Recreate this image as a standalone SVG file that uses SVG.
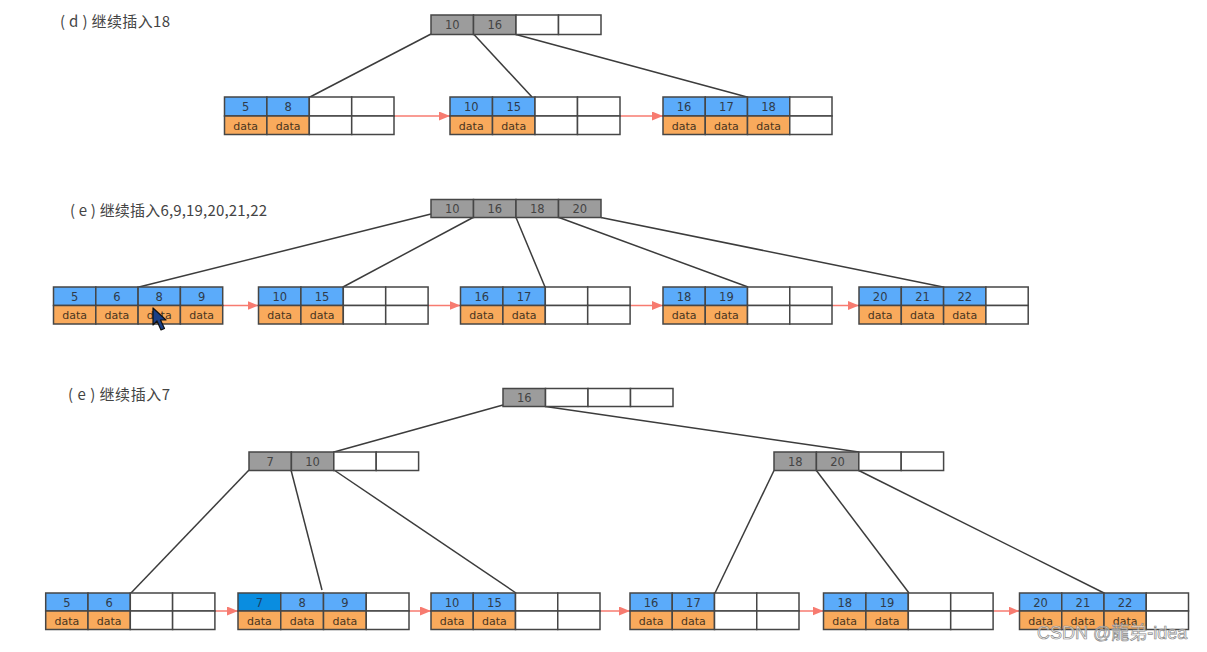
<svg xmlns="http://www.w3.org/2000/svg" width="1207" height="652" viewBox="0 0 1207 652">
<defs>
<style>
.k{fill:#5babfa;stroke:#464646;stroke-width:1.5}
.h{fill:#0a8de0;stroke:#464646;stroke-width:1.5}
.d{fill:#f9aa5c;stroke:#464646;stroke-width:1.5}
.e{fill:#fff;stroke:#464646;stroke-width:1.5}
.g{fill:#9c9c9c;stroke:#464646;stroke-width:1.5}
.n{font-family:"DejaVu Sans",sans-serif;font-size:11.5px;fill:#2f3b4a;text-anchor:middle}
.gn{font-family:"DejaVu Sans",sans-serif;font-size:11.5px;fill:#444;text-anchor:middle}
.dt{font-family:"DejaVu Sans",sans-serif;font-size:11px;fill:#4a3520;text-anchor:middle}
.t{font-family:"Noto Sans CJK SC","Noto Sans",sans-serif;font-size:15px;fill:#444}
.c{stroke:#3c3c3c;stroke-width:1.5;fill:none}
.a{stroke:#f77b70;stroke-width:1.5;fill:none;marker-end:url(#ah)}
</style>
<marker id="ah" markerUnits="userSpaceOnUse" markerWidth="11" markerHeight="9" refX="11" refY="4.5" orient="auto">
<path d="M0,0 L11,4.5 L0,9 z" fill="#f77b70"/>
</marker>
</defs>
<rect width="1207" height="652" fill="#fff"/>

<text class="t" x="60" y="27" textLength="110" lengthAdjust="spacing">( d ) 继续插入18</text>
<text class="t" x="70" y="216" textLength="197" lengthAdjust="spacing">( e ) 继续插入6,9,19,20,21,22</text>
<text class="t" x="68" y="400" textLength="102" lengthAdjust="spacing">( e ) 继续插入7</text>

<g id="connectors">
<line class="c" x1="431" y1="34" x2="310" y2="97"/>
<line class="c" x1="474" y1="34.5" x2="532" y2="97"/>
<line class="c" x1="516" y1="34.5" x2="747" y2="97"/>
<line class="c" x1="431" y1="214" x2="139" y2="287"/>
<line class="c" x1="473" y1="217.5" x2="343" y2="287"/>
<line class="c" x1="516" y1="217.5" x2="545" y2="287"/>
<line class="c" x1="559" y1="217.5" x2="748" y2="287"/>
<line class="c" x1="601" y1="217.5" x2="943" y2="287"/>
<line class="c" x1="503" y1="405" x2="334" y2="452"/>
<line class="c" x1="545.5" y1="406.5" x2="858.8" y2="452"/>
<line class="c" x1="249" y1="470" x2="131" y2="593"/>
<line class="c" x1="291" y1="470" x2="322" y2="590"/>
<line class="c" x1="334" y1="470" x2="516" y2="593"/>
<line class="c" x1="774" y1="470.5" x2="715" y2="593"/>
<line class="c" x1="816.4" y1="470.5" x2="909" y2="593"/>
<line class="c" x1="858.8" y1="470.5" x2="1104" y2="593"/>
<line class="a" x1="394" y1="116" x2="450" y2="116"/>
<line class="a" x1="620" y1="116" x2="663" y2="116"/>
<line class="a" x1="222.7" y1="305.5" x2="258.5" y2="305.5"/>
<line class="a" x1="428.1" y1="305.5" x2="460.5" y2="305.5"/>
<line class="a" x1="630.1" y1="305.5" x2="663" y2="305.5"/>
<line class="a" x1="832" y1="305.5" x2="859" y2="305.5"/>
<line class="a" x1="214.9" y1="611" x2="238" y2="611"/>
<line class="a" x1="409" y1="611" x2="431" y2="611"/>
<line class="a" x1="600" y1="611" x2="630" y2="611"/>
<line class="a" x1="799" y1="611" x2="823.5" y2="611"/>
<line class="a" x1="993.1" y1="611" x2="1019.5" y2="611"/>
</g>

<!-- section d -->
<g id="d-root">
<rect class="g" x="431" y="15" width="42.5" height="19.5"/>
<rect class="g" x="473.5" y="15" width="42.5" height="19.5"/>
<rect class="e" x="516" y="15" width="42.5" height="19.5"/>
<rect class="e" x="558.5" y="15" width="42.5" height="19.5"/>
<text class="gn" x="452.25" y="29">10</text>
<text class="gn" x="494.75" y="29">16</text>
</g>
<g id="d-leaf1">
<rect class="k" x="224.5" y="97" width="42.4" height="19"/>
<rect class="k" x="266.9" y="97" width="42.4" height="19"/>
<rect class="e" x="309.3" y="97" width="42.4" height="19"/>
<rect class="e" x="351.7" y="97" width="42.3" height="19"/>
<rect class="d" x="224.5" y="116" width="42.4" height="18.5"/>
<rect class="d" x="266.9" y="116" width="42.4" height="18.5"/>
<rect class="e" x="309.3" y="116" width="42.4" height="18.5"/>
<rect class="e" x="351.7" y="116" width="42.3" height="18.5"/>
<text class="n" x="245.7" y="111">5</text>
<text class="n" x="288.1" y="111">8</text>
<text class="dt" x="245.7" y="129.5">data</text>
<text class="dt" x="288.1" y="129.5">data</text>
</g>
<g id="d-leaf2">
<rect class="k" x="450" y="97" width="42.5" height="19"/>
<rect class="k" x="492.5" y="97" width="42.5" height="19"/>
<rect class="e" x="535" y="97" width="42.5" height="19"/>
<rect class="e" x="577.5" y="97" width="42.5" height="19"/>
<rect class="d" x="450" y="116" width="42.5" height="18.5"/>
<rect class="d" x="492.5" y="116" width="42.5" height="18.5"/>
<rect class="e" x="535" y="116" width="42.5" height="18.5"/>
<rect class="e" x="577.5" y="116" width="42.5" height="18.5"/>
<text class="n" x="471.25" y="111">10</text>
<text class="n" x="513.75" y="111">15</text>
<text class="dt" x="471.25" y="129.5">data</text>
<text class="dt" x="513.75" y="129.5">data</text>
</g>
<g id="d-leaf3">
<rect class="k" x="663" y="97" width="42.25" height="19"/>
<rect class="k" x="705.25" y="97" width="42.25" height="19"/>
<rect class="k" x="747.5" y="97" width="42.25" height="19"/>
<rect class="e" x="789.75" y="97" width="42.25" height="19"/>
<rect class="d" x="663" y="116" width="42.25" height="18.5"/>
<rect class="d" x="705.25" y="116" width="42.25" height="18.5"/>
<rect class="d" x="747.5" y="116" width="42.25" height="18.5"/>
<rect class="e" x="789.75" y="116" width="42.25" height="18.5"/>
<text class="n" x="684.1" y="111">16</text>
<text class="n" x="726.4" y="111">17</text>
<text class="n" x="768.6" y="111">18</text>
<text class="dt" x="684.1" y="129.5">data</text>
<text class="dt" x="726.4" y="129.5">data</text>
<text class="dt" x="768.6" y="129.5">data</text>
</g>

<!-- section e -->
<g id="e-root">
<rect class="g" x="431" y="199.5" width="42.5" height="18"/>
<rect class="g" x="473.5" y="199.5" width="42.5" height="18"/>
<rect class="g" x="516" y="199.5" width="42.5" height="18"/>
<rect class="g" x="558.5" y="199.5" width="42.5" height="18"/>
<text class="gn" x="452.25" y="213">10</text>
<text class="gn" x="494.75" y="213">16</text>
<text class="gn" x="537.25" y="213">18</text>
<text class="gn" x="579.75" y="213">20</text>
</g>
<g id="e-leaf1">
<rect class="k" x="53.5" y="287" width="42.3" height="18.5"/>
<rect class="k" x="95.8" y="287" width="42.3" height="18.5"/>
<rect class="k" x="138.1" y="287" width="42.3" height="18.5"/>
<rect class="k" x="180.4" y="287" width="42.3" height="18.5"/>
<rect class="d" x="53.5" y="305.5" width="42.3" height="18.5"/>
<rect class="d" x="95.8" y="305.5" width="42.3" height="18.5"/>
<rect class="d" x="138.1" y="305.5" width="42.3" height="18.5"/>
<rect class="d" x="180.4" y="305.5" width="42.3" height="18.5"/>
<text class="n" x="74.65" y="301">5</text>
<text class="n" x="116.95" y="301">6</text>
<text class="n" x="159.25" y="301">8</text>
<text class="n" x="201.55" y="301">9</text>
<text class="dt" x="74.65" y="319">data</text>
<text class="dt" x="116.95" y="319">data</text>
<text class="dt" x="159.25" y="319">data</text>
<text class="dt" x="201.55" y="319">data</text>
</g>
<g id="e-leaf2">
<rect class="k" x="258.5" y="287" width="42.4" height="18.5"/>
<rect class="k" x="300.9" y="287" width="42.4" height="18.5"/>
<rect class="e" x="343.3" y="287" width="42.4" height="18.5"/>
<rect class="e" x="385.7" y="287" width="42.4" height="18.5"/>
<rect class="d" x="258.5" y="305.5" width="42.4" height="18.5"/>
<rect class="d" x="300.9" y="305.5" width="42.4" height="18.5"/>
<rect class="e" x="343.3" y="305.5" width="42.4" height="18.5"/>
<rect class="e" x="385.7" y="305.5" width="42.4" height="18.5"/>
<text class="n" x="279.7" y="301">10</text>
<text class="n" x="322.1" y="301">15</text>
<text class="dt" x="279.7" y="319">data</text>
<text class="dt" x="322.1" y="319">data</text>
</g>
<g id="e-leaf3">
<rect class="k" x="460.5" y="287" width="42.4" height="18.5"/>
<rect class="k" x="502.9" y="287" width="42.4" height="18.5"/>
<rect class="e" x="545.3" y="287" width="42.4" height="18.5"/>
<rect class="e" x="587.7" y="287" width="42.4" height="18.5"/>
<rect class="d" x="460.5" y="305.5" width="42.4" height="18.5"/>
<rect class="d" x="502.9" y="305.5" width="42.4" height="18.5"/>
<rect class="e" x="545.3" y="305.5" width="42.4" height="18.5"/>
<rect class="e" x="587.7" y="305.5" width="42.4" height="18.5"/>
<text class="n" x="481.7" y="301">16</text>
<text class="n" x="524.1" y="301">17</text>
<text class="dt" x="481.7" y="319">data</text>
<text class="dt" x="524.1" y="319">data</text>
</g>
<g id="e-leaf4">
<rect class="k" x="663" y="287" width="42.25" height="18.5"/>
<rect class="k" x="705.25" y="287" width="42.25" height="18.5"/>
<rect class="e" x="747.5" y="287" width="42.25" height="18.5"/>
<rect class="e" x="789.75" y="287" width="42.25" height="18.5"/>
<rect class="d" x="663" y="305.5" width="42.25" height="18.5"/>
<rect class="d" x="705.25" y="305.5" width="42.25" height="18.5"/>
<rect class="e" x="747.5" y="305.5" width="42.25" height="18.5"/>
<rect class="e" x="789.75" y="305.5" width="42.25" height="18.5"/>
<text class="n" x="684.1" y="301">18</text>
<text class="n" x="726.4" y="301">19</text>
<text class="dt" x="684.1" y="319">data</text>
<text class="dt" x="726.4" y="319">data</text>
</g>
<g id="e-leaf5">
<rect class="k" x="859" y="287" width="42.3" height="18.5"/>
<rect class="k" x="901.3" y="287" width="42.3" height="18.5"/>
<rect class="k" x="943.6" y="287" width="42.3" height="18.5"/>
<rect class="e" x="985.9" y="287" width="42.3" height="18.5"/>
<rect class="d" x="859" y="305.5" width="42.3" height="18.5"/>
<rect class="d" x="901.3" y="305.5" width="42.3" height="18.5"/>
<rect class="d" x="943.6" y="305.5" width="42.3" height="18.5"/>
<rect class="e" x="985.9" y="305.5" width="42.3" height="18.5"/>
<text class="n" x="880.15" y="301">20</text>
<text class="n" x="922.45" y="301">21</text>
<text class="n" x="964.75" y="301">22</text>
<text class="dt" x="880.15" y="319">data</text>
<text class="dt" x="922.45" y="319">data</text>
<text class="dt" x="964.75" y="319">data</text>
</g>
<g id="cursor">
<path d="M153,308 L153,325 L157,321 L161,330 L164.5,328.5 L160.5,320 L166,320 Z" fill="#1b3f86" stroke="#111" stroke-width="1.2" stroke-linejoin="round"/>
</g>

<!-- section f -->
<g id="f-root">
<rect class="g" x="503" y="388.5" width="42.5" height="18"/>
<rect class="e" x="545.5" y="388.5" width="42.5" height="18"/>
<rect class="e" x="588" y="388.5" width="42.5" height="18"/>
<rect class="e" x="630.5" y="388.5" width="42.5" height="18"/>
<text class="gn" x="524.25" y="402">16</text>
</g>
<g id="f-inner-left">
<rect class="g" x="249" y="452" width="42.4" height="18.5"/>
<rect class="g" x="291.4" y="452" width="42.4" height="18.5"/>
<rect class="e" x="333.8" y="452" width="42.4" height="18.5"/>
<rect class="e" x="376.2" y="452" width="42.4" height="18.5"/>
<text class="gn" x="270.2" y="465.5">7</text>
<text class="gn" x="312.6" y="465.5">10</text>
</g>
<g id="f-inner-right">
<rect class="g" x="774" y="452" width="42.4" height="18.5"/>
<rect class="g" x="816.4" y="452" width="42.4" height="18.5"/>
<rect class="e" x="858.8" y="452" width="42.4" height="18.5"/>
<rect class="e" x="901.2" y="452" width="42.4" height="18.5"/>
<text class="gn" x="795.2" y="465.5">18</text>
<text class="gn" x="837.6" y="465.5">20</text>
</g>
<g id="f-leaf1">
<rect class="k" x="45.7" y="593" width="42.3" height="18"/>
<rect class="k" x="88" y="593" width="42.3" height="18"/>
<rect class="e" x="130.3" y="593" width="42.3" height="18"/>
<rect class="e" x="172.6" y="593" width="42.3" height="18"/>
<rect class="d" x="45.7" y="611" width="42.3" height="18.5"/>
<rect class="d" x="88" y="611" width="42.3" height="18.5"/>
<rect class="e" x="130.3" y="611" width="42.3" height="18.5"/>
<rect class="e" x="172.6" y="611" width="42.3" height="18.5"/>
<text class="n" x="66.85" y="606.5">5</text>
<text class="n" x="109.15" y="606.5">6</text>
<text class="dt" x="66.85" y="625">data</text>
<text class="dt" x="109.15" y="625">data</text>
</g>
<g id="f-leaf2">
<rect class="h" x="238" y="593" width="42.75" height="18"/>
<rect class="k" x="280.75" y="593" width="42.75" height="18"/>
<rect class="k" x="323.5" y="593" width="42.75" height="18"/>
<rect class="e" x="366.25" y="593" width="42.75" height="18"/>
<rect class="d" x="238" y="611" width="42.75" height="18.5"/>
<rect class="d" x="280.75" y="611" width="42.75" height="18.5"/>
<rect class="d" x="323.5" y="611" width="42.75" height="18.5"/>
<rect class="e" x="366.25" y="611" width="42.75" height="18.5"/>
<text class="n" x="259.4" y="606.5" style="fill:#1c3f66">7</text>
<text class="n" x="302.1" y="606.5">8</text>
<text class="n" x="344.9" y="606.5">9</text>
<text class="dt" x="259.4" y="625">data</text>
<text class="dt" x="302.1" y="625">data</text>
<text class="dt" x="344.9" y="625">data</text>
</g>
<g id="f-leaf3">
<rect class="k" x="431" y="593" width="42.25" height="18"/>
<rect class="k" x="473.25" y="593" width="42.25" height="18"/>
<rect class="e" x="515.5" y="593" width="42.25" height="18"/>
<rect class="e" x="557.75" y="593" width="42.25" height="18"/>
<rect class="d" x="431" y="611" width="42.25" height="18.5"/>
<rect class="d" x="473.25" y="611" width="42.25" height="18.5"/>
<rect class="e" x="515.5" y="611" width="42.25" height="18.5"/>
<rect class="e" x="557.75" y="611" width="42.25" height="18.5"/>
<text class="n" x="452.1" y="606.5">10</text>
<text class="n" x="494.4" y="606.5">15</text>
<text class="dt" x="452.1" y="625">data</text>
<text class="dt" x="494.4" y="625">data</text>
</g>
<g id="f-leaf4">
<rect class="k" x="630" y="593" width="42.25" height="18"/>
<rect class="k" x="672.25" y="593" width="42.25" height="18"/>
<rect class="e" x="714.5" y="593" width="42.25" height="18"/>
<rect class="e" x="756.75" y="593" width="42.25" height="18"/>
<rect class="d" x="630" y="611" width="42.25" height="18.5"/>
<rect class="d" x="672.25" y="611" width="42.25" height="18.5"/>
<rect class="e" x="714.5" y="611" width="42.25" height="18.5"/>
<rect class="e" x="756.75" y="611" width="42.25" height="18.5"/>
<text class="n" x="651.1" y="606.5">16</text>
<text class="n" x="693.4" y="606.5">17</text>
<text class="dt" x="651.1" y="625">data</text>
<text class="dt" x="693.4" y="625">data</text>
</g>
<g id="f-leaf5">
<rect class="k" x="823.5" y="593" width="42.4" height="18"/>
<rect class="k" x="865.9" y="593" width="42.4" height="18"/>
<rect class="e" x="908.3" y="593" width="42.4" height="18"/>
<rect class="e" x="950.7" y="593" width="42.4" height="18"/>
<rect class="d" x="823.5" y="611" width="42.4" height="18.5"/>
<rect class="d" x="865.9" y="611" width="42.4" height="18.5"/>
<rect class="e" x="908.3" y="611" width="42.4" height="18.5"/>
<rect class="e" x="950.7" y="611" width="42.4" height="18.5"/>
<text class="n" x="844.7" y="606.5">18</text>
<text class="n" x="887.1" y="606.5">19</text>
<text class="dt" x="844.7" y="625">data</text>
<text class="dt" x="887.1" y="625">data</text>
</g>
<g id="f-leaf6">
<rect class="k" x="1019.5" y="593" width="42.25" height="18"/>
<rect class="k" x="1061.75" y="593" width="42.25" height="18"/>
<rect class="k" x="1104" y="593" width="42.25" height="18"/>
<rect class="e" x="1146.25" y="593" width="42.25" height="18"/>
<rect class="d" x="1019.5" y="611" width="42.25" height="18.5"/>
<rect class="d" x="1061.75" y="611" width="42.25" height="18.5"/>
<rect class="d" x="1104" y="611" width="42.25" height="18.5"/>
<rect class="e" x="1146.25" y="611" width="42.25" height="18.5"/>
<text class="n" x="1040.6" y="606.5">20</text>
<text class="n" x="1082.9" y="606.5">21</text>
<text class="n" x="1125.1" y="606.5">22</text>
<text class="dt" x="1040.6" y="625">data</text>
<text class="dt" x="1082.9" y="625">data</text>
<text class="dt" x="1125.1" y="625">data</text>
</g>

<text x="1037" y="639" font-family="'Liberation Sans','Noto Sans CJK TC',sans-serif" font-size="18" fill="#ffffff" fill-opacity="0.6" stroke="#8a8a8a" stroke-width="0.7">CSDN @龍弟-idea</text>
</svg>
